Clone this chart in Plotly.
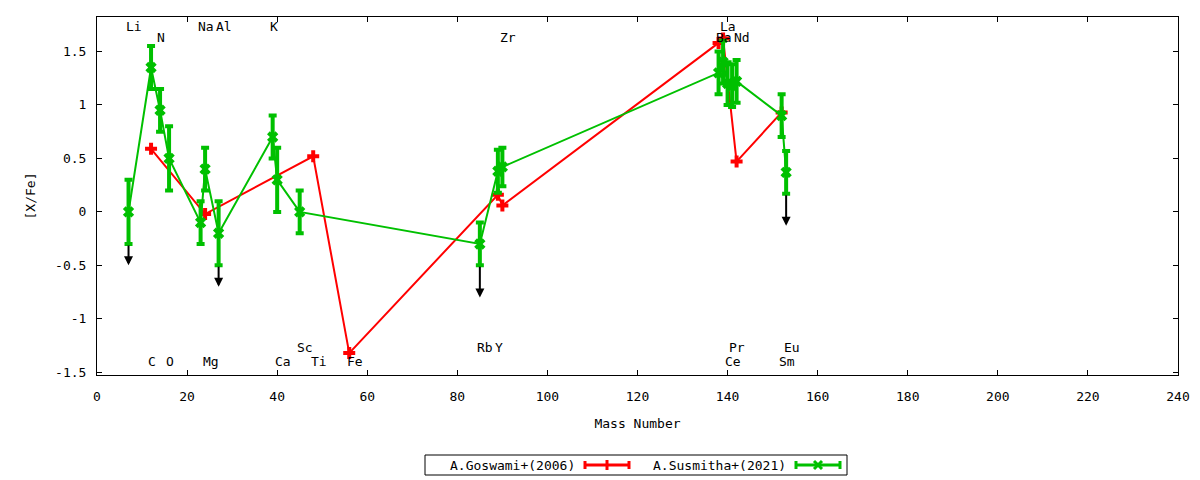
"""[X/Fe] versus mass number, gnuplot-style abundance pattern."""

import plotly.graph_objects as go

_FONT = "DejaVu Sans Mono, monospace"
_RED = "#ff0000"
_GREEN = "#00c000"
_BLACK = "#000000"

# the page body adds an 8px offset, so the figure is a bit smaller than the window
PAGE_OFFSET = 8
WIDTH = 1192
HEIGHT = 472
MARGIN = {"l": 89, "r": 22, "t": 9, "b": 105}

# A.Goswami+(2006)
goswami_elem = ["C", "Mg", "Ti", "Fe", "Y", "Zr", "Ba", "La", "Nd", "Sm"]
goswami_mass = [12, 24, 48, 56, 89, 90, 138, 139, 142, 152]
goswami_xfe = [0.59, -0.02, 0.52, -1.32, 0.16, 0.06, 1.58, 1.62, 0.47, 0.93]

# A.Susmitha+(2021)
susmitha_elem = ["Li", "C", "N", "O", "Na", "Mg", "Al", "K", "Ca", "Sc",
                 "Rb", "Y", "Zr", "Ba", "La", "Ce", "Pr", "Nd", "Sm", "Eu"]
susmitha_mass = [7, 12, 14, 16, 23, 24, 27, 39, 40, 45,
                 85, 89, 90, 138, 139, 140, 141, 142, 152, 153]
susmitha_xfe = [0.0, 1.35, 0.95, 0.5, -0.1, 0.4, -0.2, 0.7, 0.3, 0.0,
                -0.3, 0.38, 0.42, 1.3, 1.4, 1.2, 1.18, 1.22, 0.9, 0.37]
susmitha_err = [0.3, 0.2, 0.2, 0.3, 0.2, 0.2, 0.3, 0.2, 0.3, 0.2,
                0.2, 0.2, 0.18, 0.2, 0.2, 0.2, 0.2, 0.2, 0.2, 0.2]

# upper limits: element -> arrow length below the error bar
upper_limit_elem = ["Li", "Al", "Rb", "Eu"]
upper_limit_len = [0.2, 0.2, 0.3, 0.3]

# element labels and the y level of their row
label_elem = ["Li", "Na", "Al", "K", "La",
              "N", "Zr", "Ba", "Nd",
              "Sc", "Rb", "Y", "Pr", "Eu",
              "C", "O", "Mg", "Ca", "Ti", "Fe", "Ce", "Sm"]
label_mass = [7, 23, 27, 39, 139,
              14, 90, 138, 142,
              45, 85, 89, 141, 153,
              12, 16, 24, 40, 48, 56, 140, 152]
label_y = [1.73] * 5 + [1.63] * 4 + [-1.27] * 5 + [-1.40] * 8

x_ticks = [0, 20, 40, 60, 80, 100, 120, 140, 160, 180, 200, 220, 240]
y_ticks = [-1.5, -1, -0.5, 0, 0.5, 1, 1.5]
y_tick_text = ["-1.5", "-1", "-0.5", "0", "0.5", "1", "1.5"]
X_RANGE = [0, 240]
Y_RANGE = [-1.525, 1.822]


def _paper_x(px):
    """Window pixel -> paper x."""
    return (px - PAGE_OFFSET - MARGIN["l"]) / (WIDTH - MARGIN["l"] - MARGIN["r"])


def _paper_y(px):
    """Window pixel -> paper y."""
    return (HEIGHT - MARGIN["b"] - (px - PAGE_OFFSET)) / (HEIGHT - MARGIN["t"] - MARGIN["b"])


fig = go.Figure()

fig.add_trace(
    go.Scatter(
        x=goswami_mass,
        y=goswami_xfe,
        text=goswami_elem,
        mode="lines+markers",
        name="A.Goswami+(2006)",
        line={"color": _RED, "width": 2},
        marker={"symbol": "cross", "size": 10, "color": _RED},
        showlegend=False,
    )
)
fig.add_trace(
    go.Scatter(
        x=susmitha_mass,
        y=susmitha_xfe,
        text=susmitha_elem,
        mode="lines+markers",
        name="A.Susmitha+(2021)",
        line={"color": _GREEN, "width": 2},
        marker={"symbol": "x", "size": 10, "color": _GREEN},
        error_y={"type": "data", "array": susmitha_err, "visible": True,
                 "color": _GREEN, "thickness": 4, "width": 4},
        showlegend=False,
    )
)

# downward arrows for the upper limits
for elem, length in zip(upper_limit_elem, upper_limit_len):
    i = susmitha_elem.index(elem)
    tail = susmitha_xfe[i] - susmitha_err[i]
    fig.add_annotation(
        x=susmitha_mass[i], y=tail - length,
        ax=susmitha_mass[i], ay=tail,
        xref="x", yref="y", axref="x", ayref="y",
        text="", showarrow=True,
        arrowhead=2, arrowsize=0.9, arrowwidth=2, arrowcolor=_BLACK,
        standoff=0, startstandoff=0,
    )

for elem, mass, y in zip(label_elem, label_mass, label_y):
    fig.add_annotation(
        x=mass - 0.8, y=y, xref="x", yref="y",
        text=elem, showarrow=False,
        xanchor="left", yanchor="middle", borderpad=0,
        font={"family": _FONT, "size": 13, "color": _BLACK},
    )

# gnuplot-like key: text then line sample, in a box below the axis
legend_y = _paper_y(465)
fig.add_shape(type="rect", xref="paper", yref="paper",
              x0=_paper_x(425), x1=_paper_x(847), y0=_paper_y(475), y1=_paper_y(455),
              line={"color": _BLACK, "width": 1})
for label, text_end, sample_x0, color in (
    ("A.Goswami+(2006)", 577, 585, _RED),
    ("A.Susmitha+(2021)", 788, 796, _GREEN),
):
    fig.add_annotation(
        x=_paper_x(text_end), y=legend_y, xref="paper", yref="paper",
        text=label, showarrow=False, xanchor="right", yanchor="middle",
        font={"family": _FONT, "size": 13, "color": _BLACK},
    )
    x0, x1, xm = sample_x0, sample_x0 + 44, sample_x0 + 22
    fig.add_shape(type="line", xref="paper", yref="paper",
                  x0=_paper_x(x0), x1=_paper_x(x1), y0=legend_y, y1=legend_y,
                  line={"color": color, "width": 3})
    for xc in (x0, x1):
        fig.add_shape(type="line", xref="paper", yref="paper",
                      x0=_paper_x(xc), x1=_paper_x(xc),
                      y0=_paper_y(461), y1=_paper_y(469),
                      line={"color": color, "width": 3})
    if color == _RED:
        fig.add_shape(type="line", xref="paper", yref="paper",
                      x0=_paper_x(xm), x1=_paper_x(xm),
                      y0=_paper_y(460), y1=_paper_y(470),
                      line={"color": color, "width": 3})
    else:
        for dy in (1, -1):
            fig.add_shape(type="line", xref="paper", yref="paper",
                          x0=_paper_x(xm - 4), x1=_paper_x(xm + 4),
                          y0=_paper_y(465 - 4 * dy), y1=_paper_y(465 + 4 * dy),
                          line={"color": color, "width": 3})

fig.update_layout(
    width=WIDTH,
    height=HEIGHT,
    autosize=False,
    margin=MARGIN,
    paper_bgcolor="#ffffff",
    plot_bgcolor="#ffffff",
    font={"family": _FONT, "size": 13, "color": _BLACK},
    showlegend=False,
)
axis_style = {
    "showgrid": False,
    "zeroline": False,
    "showline": True,
    "linecolor": _BLACK,
    "linewidth": 1,
    "mirror": "ticks",
    "ticks": "inside",
    "ticklen": 5,
    "tickcolor": _BLACK,
    "tickfont": {"family": _FONT, "size": 13, "color": _BLACK},
}
fig.update_xaxes(
    **axis_style,
    range=X_RANGE,
    tickvals=x_ticks,
    ticklabelstandoff=9,
    title={"text": "Mass Number", "standoff": 16,
           "font": {"family": _FONT, "size": 13, "color": _BLACK}},
)
fig.update_yaxes(
    **axis_style,
    range=Y_RANGE,
    tickvals=y_ticks,
    ticktext=y_tick_text,
    ticklabelstandoff=7,
    title={"text": "[X/Fe]", "standoff": 16,
           "font": {"family": _FONT, "size": 13, "color": _BLACK}},
)

fig.write_html("out.html")
